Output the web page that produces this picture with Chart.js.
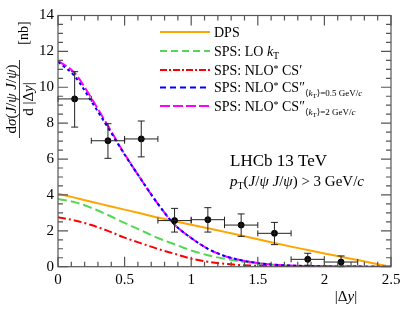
<!DOCTYPE html>
<html>
<head>
<meta charset="utf-8">
<script src="https://cdn.jsdelivr.net/npm/chart.js@4.4.1/dist/chart.umd.min.js"></script>
<style>
  html, body { margin: 0; padding: 0; background: #fff; }
  #wrap { position: relative; width: 412px; height: 318px; }
</style>
</head>
<body>
<div id="wrap"><canvas id="chart"></canvas></div>
<script>
// Curve grid in |dy|
const curveX = [0, 0.125, 0.25, 0.375, 0.5, 0.625, 0.75, 0.875, 1, 1.125, 1.25, 1.375, 1.5, 1.625, 1.75, 1.875, 2, 2.125, 2.25, 2.375, 2.5];

// Theory curves (nb)
const dps      = [4.07, 3.85, 3.62, 3.40, 3.18, 2.96, 2.74, 2.54, 2.34, 2.14, 1.94, 1.74, 1.53, 1.32, 1.12, 0.93, 0.74, 0.55, 0.37, 0.18, 0];
const spsLO    = [3.77, 3.60, 3.28, 2.88, 2.44, 2.02, 1.60, 1.25, 0.90, 0.64, 0.44, 0.29, 0.18, 0.10, 0.05, 0.03, 0.02, 0.01, 0.005, 0, 0];
const spsCS1   = [2.75, 2.58, 2.32, 2.00, 1.62, 1.30, 0.99, 0.72, 0.45, 0.27, 0.16, 0.09, 0.05, 0.03, 0.02, 0.01, 0.01, 0, 0, 0, 0];
const spsCS05  = [11.42, 10.62, 9.22, 7.75, 6.25, 4.85, 3.50, 2.35, 1.60, 1.00, 0.60, 0.36, 0.20, 0.11, 0.06, 0.04, 0.02, 0.01, 0.005, 0, 0];
const spsCS2   = [11.47, 10.80, 9.40, 7.85, 6.28, 4.85, 3.50, 2.35, 1.60, 1.00, 0.60, 0.36, 0.20, 0.11, 0.06, 0.04, 0.02, 0.01, 0.005, 0, 0];

// LHCb data points
const dataX     = [0.125, 0.375, 0.625, 0.875, 1.125, 1.375, 1.625, 1.875, 2.125];
const dataY     = [9.35, 7.02, 7.12, 2.57, 2.62, 2.32, 1.86, 0.41, 0.26];
const errUp     = [1.52, 0.95, 1.00, 0.68, 0.67, 0.62, 0.61, 0.34, 0.34];
const errDown   = [1.57, 0.98, 1.00, 0.64, 0.69, 0.63, 0.63, 0.33, 0.26];
const binHalf   = 0.125;

// Tick values and labels
const xMajor = [0, 0.5, 1, 1.5, 2, 2.5];
const xLabels = ['0', '0.5', '1', '1.5', '2', '2.5'];
const yMajor = [0, 2, 4, 6, 8, 10, 12, 14];
const yLabels = ['0', '2', '4', '6', '8', '10', '12', '14'];

const SERIF = '"Liberation Serif", "DejaVu Serif", serif';
const n  = (s) => `${s}px ${SERIF}`;
const it = (s) => `italic ${s}px ${SERIF}`;

Chart.defaults.font.family = 'Liberation Serif';

const COL = {
  dps: '#ffa500',
  lo: '#55d655',
  cs1: '#ff0000',
  cs05: '#0000ff',
  cs2: '#ff00ff'
};

const pts = (ys) => curveX.map((x, i) => ({ x: x, y: ys[i] }));

// draw a sequence of text pieces with their own fonts / offsets
function drawRuns(ctx, runs, x, y, align) {
  let w = 0;
  runs.forEach(r => { ctx.font = r.f; w += ctx.measureText(r.t).width; });
  let cx = align === 'center' ? x - w / 2 : (align === 'right' ? x - w : x);
  runs.forEach(r => {
    ctx.font = r.f;
    ctx.fillText(r.t, cx, y + (r.dy || 0));
    cx += ctx.measureText(r.t).width;
  });
}

const legendRows = [
  { color: COL.dps,  dash: [],           runs: [{ t: 'DPS', f: n(14) }] },
  { color: COL.lo,   dash: [7, 4],       runs: [{ t: 'SPS: LO ', f: n(14) }, { t: 'k', f: it(14) }, { t: 'T', f: n(10), dy: 3 }] },
  { color: COL.cs1,  dash: [7, 2, 2, 2], runs: [{ t: 'SPS: NLO', f: n(14) }, { t: '*', f: n(10), dy: -3 }, { t: ' CS′', f: n(14) }] },
  { color: COL.cs05, dash: [6, 4],       runs: [{ t: 'SPS: NLO', f: n(14) }, { t: '*', f: n(10), dy: -3 }, { t: ' CS″', f: n(14) },
      { t: '⟨', f: n(9), dy: 4 }, { t: 'k', f: it(9), dy: 4 }, { t: 'T', f: n(7), dy: 6 }, { t: '⟩=0.5 GeV/', f: n(9), dy: 4 }, { t: 'c', f: it(9), dy: 4 }] },
  { color: COL.cs2,  dash: [10, 3],      runs: [{ t: 'SPS: NLO', f: n(14) }, { t: '*', f: n(10), dy: -3 }, { t: ' CS″', f: n(14) },
      { t: '⟨', f: n(9), dy: 4 }, { t: 'k', f: it(9), dy: 4 }, { t: 'T', f: n(7), dy: 6 }, { t: '⟩=2 GeV/', f: n(9), dy: 4 }, { t: 'c', f: it(9), dy: 4 }] }
];
const legendY = [32, 51, 70, 87.5, 106];

// frame, inward ticks, error bars, legend and labels
const decorPlugin = {
  id: 'decor',
  afterDatasetsDraw(chart) {
    const ctx = chart.ctx;
    const xs = chart.scales.x, ys = chart.scales.y;
    const a = chart.chartArea;

    // error bars
    ctx.save();
    ctx.strokeStyle = '#222';
    ctx.lineWidth = 1;
    dataX.forEach((x, i) => {
      const px = xs.getPixelForValue(x);
      const py = ys.getPixelForValue(dataY[i]);
      const top = ys.getPixelForValue(dataY[i] + errUp[i]);
      const bot = ys.getPixelForValue(dataY[i] - errDown[i]);
      const l = xs.getPixelForValue(x - binHalf);
      const r = xs.getPixelForValue(x + binHalf);
      ctx.beginPath();
      ctx.moveTo(px, top); ctx.lineTo(px, bot);
      ctx.moveTo(px - 3.5, top); ctx.lineTo(px + 3.5, top);
      ctx.moveTo(px - 3.5, bot); ctx.lineTo(px + 3.5, bot);
      ctx.moveTo(l, py); ctx.lineTo(r, py);
      ctx.moveTo(l, py - 3); ctx.lineTo(l, py + 3);
      ctx.moveTo(r, py - 3); ctx.lineTo(r, py + 3);
      ctx.stroke();
    });
    ctx.restore();

    // frame and ticks
    ctx.save();
    ctx.strokeStyle = '#555';
    ctx.lineWidth = 1.2;
    ctx.strokeRect(a.left, a.top, a.right - a.left, a.bottom - a.top);
    ctx.beginPath();
    for (let v = 0; v <= 14.001; v += 0.5) {
      const py = ys.getPixelForValue(v);
      const len = Math.abs(v % 2) < 0.01 ? 10 : 5;
      ctx.moveTo(a.left, py); ctx.lineTo(a.left + len, py);
      ctx.moveTo(a.right, py); ctx.lineTo(a.right - len, py);
    }
    for (let k = 0; k <= 25; k++) {
      const v = k / 10;
      const px = xs.getPixelForValue(v);
      const len = k % 5 === 0 ? 10 : 5;
      ctx.moveTo(px, a.bottom); ctx.lineTo(px, a.bottom - len);
      ctx.moveTo(px, a.top); ctx.lineTo(px, a.top + len);
    }
    ctx.stroke();
    ctx.restore();

    // legend
    ctx.save();
    ctx.fillStyle = '#000';
    ctx.textBaseline = 'alphabetic';
    legendRows.forEach((row, i) => {
      const y = legendY[i];
      ctx.strokeStyle = row.color;
      ctx.lineWidth = 2;
      ctx.setLineDash(row.dash);
      ctx.beginPath();
      ctx.moveTo(160, y); ctx.lineTo(210, y);
      ctx.stroke();
      ctx.setLineDash([]);
      drawRuns(ctx, row.runs, 214, y + 4.5, 'left');
    });

    // annotation
    drawRuns(ctx, [{ t: 'LHCb 13 TeV', f: n(17) }], 230, 166, 'left');
    drawRuns(ctx, [
      { t: 'p', f: it(15) }, { t: 'T', f: n(10), dy: 3 }, { t: '(', f: n(15) },
      { t: 'J', f: it(15) }, { t: '/', f: n(15) }, { t: 'ψ', f: it(15) }, { t: ' ', f: n(15) },
      { t: 'J', f: it(15) }, { t: '/', f: n(15) }, { t: 'ψ', f: it(15) },
      { t: ') > 3 GeV/', f: n(15) }, { t: 'c', f: it(15) }
    ], 230, 186, 'left');

    // x title
    drawRuns(ctx, [{ t: '|Δ', f: n(15) }, { t: 'y', f: it(15) }, { t: '|', f: n(15) }], 346, 301, 'center');

    // y title (rotated fraction)
    ctx.translate(19.5, 99);
    ctx.rotate(-Math.PI / 2);
    drawRuns(ctx, [
      { t: 'd', f: n(15) }, { t: 'σ', f: it(15) }, { t: '(', f: n(15) },
      { t: 'J', f: it(15) }, { t: '/', f: n(15) }, { t: 'ψ', f: it(15) }, { t: ' ', f: n(15) },
      { t: 'J', f: it(15) }, { t: '/', f: n(15) }, { t: 'ψ', f: it(15) }, { t: ')', f: n(15) }
    ], 0, -3.5, 'center');
    ctx.strokeStyle = '#000';
    ctx.lineWidth = 0.8;
    ctx.beginPath();
    ctx.moveTo(-39, 0); ctx.lineTo(39, 0);
    ctx.stroke();
    drawRuns(ctx, [{ t: 'd |Δ', f: n(15) }, { t: 'y', f: it(15) }, { t: '|', f: n(15) }], 0, 13, 'center');
    ctx.textBaseline = 'middle';
    drawRuns(ctx, [{ t: '[nb]', f: n(14) }], 66, 4.5, 'center');
    ctx.restore();
  }
};

const lineDs = (label, ys, color, dash, order) => ({
  type: 'line',
  label: label,
  data: pts(ys),
  borderColor: color,
  borderWidth: 2,
  borderDash: dash,
  pointRadius: 0,
  cubicInterpolationMode: 'monotone',
  fill: false,
  order: order
});

new Chart(document.getElementById('chart'), {
  type: 'line',
  data: {
    datasets: [
      {
        type: 'scatter',
        label: 'LHCb',
        data: dataX.map((x, i) => ({ x: x, y: dataY[i] })),
        backgroundColor: '#000',
        borderColor: '#000',
        pointRadius: 3,
        order: 0
      },
      lineDs('DPS', dps, COL.dps, [], 5),
      lineDs('SPS: LO kT', spsLO, COL.lo, [9, 4], 4),
      lineDs("SPS: NLO* CS'", spsCS1, COL.cs1, [8, 3, 2, 3], 3),
      lineDs("SPS: NLO* CS'' 0.5", spsCS05, COL.cs05, [3, 3], 1),
      lineDs("SPS: NLO* CS'' 2", spsCS2, COL.cs2, [10, 3], 2)
    ]
  },
  options: {
    responsive: true,
    maintainAspectRatio: false,
    animation: false,
    layout: { padding: { top: 15.5, right: 21, bottom: 0, left: 0 } },
    plugins: {
      legend: { display: false },
      tooltip: { enabled: false }
    },
    scales: {
      x: {
        type: 'linear',
        min: 0,
        max: 2.5,
        afterBuildTicks: (s) => { s.ticks = xMajor.map(v => ({ value: v })); },
        ticks: {
          color: '#000',
          font: { family: 'Liberation Serif', size: 15 },
          padding: 4,
          maxRotation: 0,
          callback: (v) => xLabels[xMajor.indexOf(v)]
        },
        grid: { display: false, drawTicks: false },
        border: { display: false },
        afterFit: (s) => { s.height = 51.3; }
      },
      y: {
        min: 0,
        max: 14,
        afterBuildTicks: (s) => { s.ticks = yMajor.map(v => ({ value: v })); },
        ticks: {
          color: '#000',
          font: { family: 'Liberation Serif', size: 15 },
          padding: 4,
          callback: (v) => yLabels[yMajor.indexOf(v)]
        },
        grid: { display: false, drawTicks: false },
        border: { display: false },
        afterFit: (s) => { s.width = 58; }
      }
    }
  },
  plugins: [decorPlugin]
});
</script>
</body>
</html>
